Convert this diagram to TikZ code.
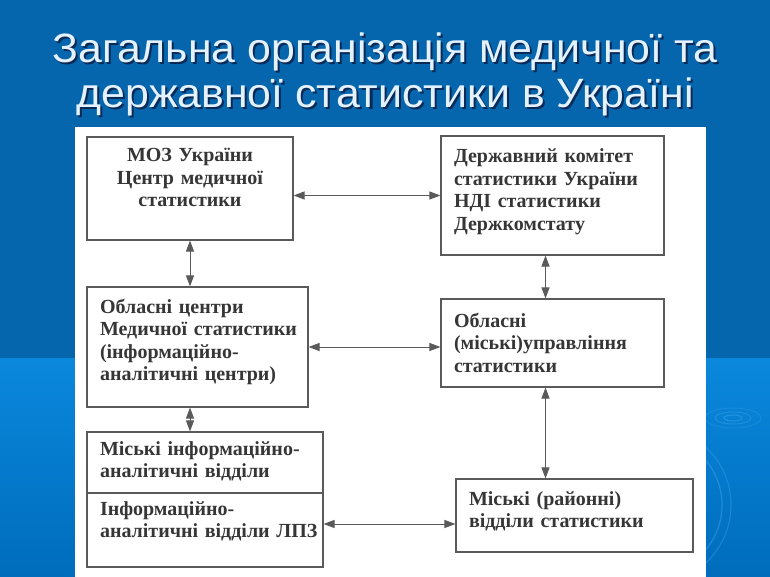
\documentclass[tikz,border=0pt]{standalone}
\usepackage{fontspec}
\setmainfont{Liberation Serif}
\newfontfamily\titlefont[FakeStretch=1.045]{Liberation Sans}
\usetikzlibrary{arrows.meta,calc,positioning}

\definecolor{slideblue}{HTML}{0565AD}
\definecolor{lowblue}{HTML}{0A88DC}
\definecolor{deepblue}{HTML}{006CBC}
\definecolor{titlewhite}{HTML}{E4F2FF}
\definecolor{titleshade}{HTML}{0B2A55}
\definecolor{boxline}{HTML}{5A5A5A}
\definecolor{boxtext}{HTML}{363636}
\definecolor{ripple}{HTML}{3AA2EA}

\tikzset{
  box/.style={draw=boxline, line width=1.1pt, fill=white, inner xsep=13pt, inner ysep=0pt,
    align=left, text=boxtext, text height=15pt,
    font=\bfseries\fontsize{20}{22.5}\selectfont},
  link/.style={{Triangle[length=11pt,width=8pt]}-{Triangle[length=11pt,width=8pt]},
    draw=boxline, line width=1pt},
  headline/.style={align=center, font=\titlefont\fontsize{41}{45.5}\selectfont}
}

\begin{document}
\begin{tikzpicture}[x=1pt,y=-1pt]

\useasboundingbox (0,0) rectangle (770,577);

% slide background
\fill[slideblue] (0,0) rectangle (770,358);
\shade[top color=lowblue, bottom color=deepblue] (0,358) rectangle (770,577);
\draw[ripple, opacity=0.6, line width=1pt] (733,418) ellipse (9 and 3);
\draw[ripple, opacity=0.45, line width=1pt] (733,418) ellipse (18 and 6);
\draw[ripple, opacity=0.3, line width=1pt] (733,418) ellipse (28 and 10);
\draw[ripple, opacity=0.5, line width=1.2pt] (652,505) circle (70);
\draw[ripple, opacity=0.4, line width=1.2pt] (652,505) circle (79);

% title
\node[headline, text=titleshade] (titleshadow) at (387,76.5) {Загальна організація медичної та\\державної статистики в Україні};
\node[headline, text=titlewhite] (title) at (385,74.5) {Загальна організація медичної та\\державної статистики в Україні};

% scanned sheet
\fill[white] (75,127) rectangle (706,577);

% left column
\node[box, minimum width=206pt, minimum height=103pt, text width=180pt, align=center, text depth=68pt] (moz) at (190,188.5) {МОЗ України\\Центр медичної\\статистики};
\node[box, minimum width=221pt, minimum height=120pt, text width=195pt, text depth=83pt] (obl) at (197.5,347) {Обласні центри\\Медичної~статистики\\(інформаційно-\\аналітичні центри)};
\node[box, minimum width=236pt, minimum height=61pt, text width=210pt, text depth=30pt] (misk) at (205,462.5) {Міські інформаційно-\\аналітичні відділи};
\node[box, minimum width=236pt, minimum height=74pt, text width=210pt, text depth=45pt] (lpz) at (205,530) {Інформаційно-\\аналітичні~відділи~ЛПЗ};

% right column
\node[box, minimum width=223pt, minimum height=119pt, text width=197pt, text depth=80pt] (derzh) at (552.5,195.5) {Державний комітет\\статистики~України\\НДІ статистики\\Держкомстату};
\node[box, minimum width=223pt, minimum height=88pt, text width=197pt, text depth=47pt] (oblstat) at (552.5,343) {Обласні\\(міські)управління\\статистики};
\node[box, minimum width=237pt, minimum height=73pt, text width=211pt, text depth=36pt] (rayon) at (574.5,515.5) {Міські (районні)\\відділи статистики};

% links
\draw[link] (moz.east |- derzh.west) -- (derzh.west);
\draw[link] (obl.east) -- (obl.east -| oblstat.west);
\coordinate (lpzmid) at ($(lpz.east)+(0,-6)$);
\draw[link] (lpzmid) -- (lpzmid -| rayon.west);

\draw[link] (moz.south) -- (moz.south |- obl.north);
\draw[link] (moz.south |- obl.south) -- (moz.south |- misk.north);
\coordinate (statcol) at ($(derzh.south)+(-7,0)$);
\draw[link] (statcol) -- (statcol |- oblstat.north);
\draw[link] (statcol |- oblstat.south) -- (statcol |- rayon.north);

\end{tikzpicture}
\end{document}
